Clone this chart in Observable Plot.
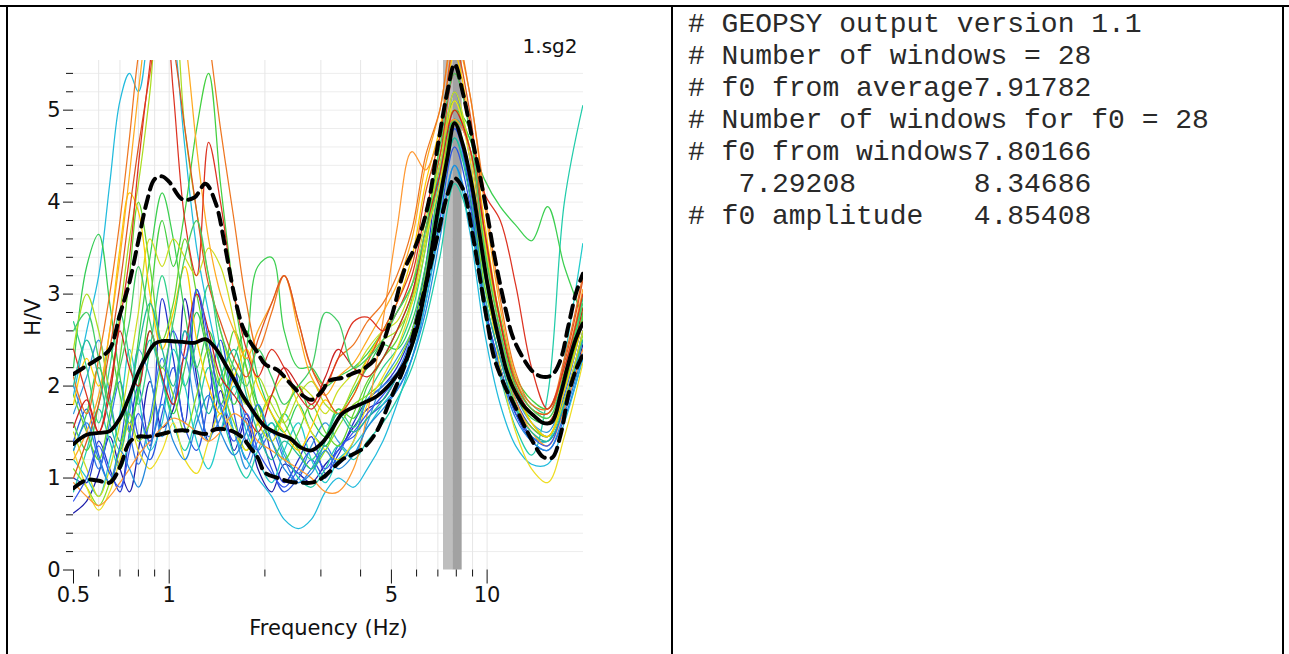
<!DOCTYPE html>
<html><head><meta charset="utf-8">
<script src="https://cdn.jsdelivr.net/npm/d3@7"></script>
<script src="https://cdn.jsdelivr.net/npm/@observablehq/plot@0.6"></script>
<style>
html,body{margin:0;padding:0;background:#fff;}
#page{position:relative;width:1289px;height:654px;overflow:hidden;background:#fff;}
#chart{position:absolute;left:0;top:0;}
.bd{position:absolute;background:#000;}
#report{position:absolute;left:688px;top:9px;margin:0;font-family:"Liberation Mono","Courier New",monospace;font-size:28px;line-height:32px;white-space:pre;color:#2a2a2a;}
</style></head>
<body><div id="page"><div id="chart"></div>
<div class="bd" style="left:0;top:5px;width:1289px;height:2px"></div>
<div class="bd" style="left:6px;top:5px;width:2px;height:649px"></div>
<div class="bd" style="left:671px;top:5px;width:2px;height:649px"></div>
<div class="bd" style="left:1282px;top:5px;width:2px;height:649px"></div>
<pre id="report"></pre>
</div>
<script>
// ---------- text ----------
const chartTitle = "1.sg2";
const xLabel = "Frequency (Hz)";
const yLabel = "H/V";
const reportLines = [
  "# GEOPSY output version 1.1",
  "# Number of windows = 28",
  "# f0 from average7.91782",
  "# Number of windows for f0 = 28",
  "# f0 from windows7.80166",
  "   7.29208       8.34686",
  "# f0 amplitude   4.85408"
];

// ---------- ticks ----------
const xMajorTicks = [0.5, 1, 5, 10];
const xMinorTicks = [0.6, 0.7, 0.8, 0.9, 2, 3, 4, 6, 7, 8, 9];
const xGridTicks = [0.6, 0.7, 0.8, 0.9, 1, 2, 3, 4, 5, 6, 7, 8, 9, 10];
const yMajorTicks = [0, 1, 2, 3, 4, 5];
const yMinorTicks = [0.2,0.4,0.6,0.8,1.2,1.4,1.6,1.8,2.2,2.4,2.6,2.8,3.2,3.4,3.6,3.8,4.2,4.4,4.6,4.8,5.2,5.4];
const yGridTicks = [0.2,0.4,0.6,0.8,1,1.2,1.4,1.6,1.8,2,2.2,2.4,2.6,2.8,3,3.2,3.4,3.6,3.8,4,4.2,4.4,4.6,4.8,5,5.2,5.4];

// ---------- f0 band (low, f0, high) ----------
const f0Bounds = [7.29208, 7.80166, 8.34686];

// ---------- statistics curves ----------
const statFreq = [0.5,0.55,0.6,0.65,0.7, 0.75,0.8,0.85,0.9,0.95, 1.0,1.1,1.2,1.3,1.4, 1.5,1.6,1.7,1.8,1.9, 2.0,2.2,2.4,2.6,2.8, 3.0,3.2,3.5,3.8,4.1, 4.5,5.0,5.5,6.0,6.5, 7.0,7.5,7.9,8.4,9.0, 9.5,10,10.5,11,11.5, 12,13,14,15,16, 17,18,19,20];
const meanHV = [1.37,1.47,1.49,1.51,1.65, 1.89,2.15,2.33,2.46,2.49, 2.49,2.48,2.47,2.51,2.41, 2.24,2.07,1.90,1.77,1.65, 1.56,1.48,1.43,1.33,1.30, 1.37,1.49,1.70,1.77,1.82, 1.89,2.04,2.25,2.61,3.21, 3.91,4.48,4.86,4.62,4.14, 3.62,3.13,2.75,2.44,2.17, 2.00,1.79,1.68,1.60,1.61, 1.90,2.24,2.51,2.68];
const upperHV = [2.13,2.22,2.30,2.40,2.78, 3.13,3.58,4.00,4.25,4.28, 4.22,4.03,4.05,4.20,3.99, 3.51,3.00,2.65,2.48,2.36, 2.24,2.17,2.03,1.91,1.85, 1.93,2.06,2.09,2.14,2.19, 2.32,2.75,3.27,3.55,3.95, 4.62,5.20,5.50,5.18,4.67, 4.28,3.88,3.45,3.10,2.80, 2.55,2.30,2.15,2.10,2.12, 2.28,2.65,3.00,3.22];
const lowerHV = [0.89,0.98,0.97,0.95,1.12, 1.39,1.45,1.45,1.46,1.48, 1.50,1.52,1.50,1.48,1.53, 1.53,1.50,1.44,1.33,1.22, 1.06,1.00,0.96,0.95,0.95, 0.99,1.07,1.20,1.26,1.33, 1.51,1.88,2.22,2.70,3.18, 3.65,4.08,4.26,4.14,3.65, 3.17,2.71,2.32,2.12,1.96, 1.84,1.59,1.38,1.23,1.22, 1.46,1.90,2.17,2.34];

// ---------- individual windows ----------
const winFreq = [0.5,0.55,0.6,0.65,0.7, 0.75,0.8,0.87,0.95,1.03, 1.12,1.22,1.33,1.45,1.6, 1.75,1.9,2.1,2.3,2.55, 2.8,3.1,3.4,3.8,4.2, 4.7,5.2,5.8,6.4,7.1, 7.9,8.8,9.8,11,12.3, 13.8,15.5,17.5,20];
const w1 = [0.62,0.75,1.05,1.45,1.10, 0.85,1.30,2.05,1.55,1.75, 2.95,2.10,1.40,1.95,1.30, 1.65,1.10,0.85,1.15,1.05, 0.95,1.15,1.30,1.55,1.75,1.85,2.10,2.45,3.10,4.10,4.90,4.10,2.90,2.20,1.70,1.45,1.40,1.75,2.45];
const w2 = [1.00,0.95,1.40,1.10,0.85, 1.50,2.00,1.35,2.95,2.30, 1.60,3.05,2.30,1.50,2.20, 1.40,1.80,1.25,0.95,1.20, 1.45,1.05,1.25,1.60,1.85,2.00,2.20,2.60,3.30,4.40,4.90,4.60,3.30,2.50,1.85,1.55,1.45,1.85,2.60];
const w3 = [1.40,1.75,1.25,0.95,1.35, 1.90,1.45,1.20,1.70,2.20, 1.55,1.30,1.85,2.50,1.70, 1.20,1.50,1.10,0.85,1.00, 1.20,1.00,1.35,1.45,1.65,1.80,1.95,2.30,2.90,3.80,4.60,4.00,2.90,2.20,1.70,1.40,1.30,1.65,2.30];
const w4 = [2.00,1.55,1.10,1.60,2.05, 1.50,1.15,1.65,2.30,1.80, 2.60,2.00,1.45,1.65,2.10, 1.60,1.30,1.50,1.20,0.95, 1.10,1.35,1.15,1.40,1.85,2.00,2.15,2.55,3.20,4.30,5.20,4.50,3.30,2.55,1.95,1.60,1.45,1.90,2.75];
const w5 = [1.70,2.10,2.50,1.90,1.40, 1.70,2.40,2.10,1.45,1.90, 2.30,1.70,1.40,1.80,1.50, 1.10,1.40,1.60,1.25,1.05, 1.35,1.60,1.40,1.25,1.60,2.05,2.30,2.60,3.20,4.00,4.80,4.30,3.25,2.50,1.90,1.60,1.50,1.95,2.70];
const w6 = [1.90,2.60,3.20,4.20,5.10, 5.40,5.20,6.00,6.60,5.90, 4.60,3.50,2.80,2.20,1.50, 1.20,1.00,0.80,0.55,0.45, 0.55,0.85,1.00,0.90,1.10,1.40,1.80,2.30,2.90,3.70,4.40,3.70,2.60,1.80,1.35,1.15,1.15,1.60,2.30];
const w7 = [1.20,1.00,0.80,1.20,1.70, 2.40,1.90,1.30,1.60,2.40, 2.00,1.40,1.10,1.50,2.00, 1.50,1.20,0.95,1.30,1.60, 1.20,0.95,1.20,1.35,1.55,1.80,2.00,2.40,3.00,3.90,4.70,4.20,3.10,2.40,1.80,1.45,1.40,2.30,3.55];
const w8 = [0.85,1.30,1.75,1.40,1.10, 1.45,1.95,2.50,2.05,1.60, 1.30,1.70,2.20,1.75,1.25, 1.00,1.30,1.60,1.30,1.00, 0.90,1.10,1.35,1.20,1.40,1.60,1.85,2.20,2.70,3.40,4.20,3.80,2.80,2.10,1.55,1.25,1.90,4.00,5.05];
const w9 = [2.70,2.20,1.60,2.20,2.80, 2.30,1.80,2.40,3.20,2.60, 2.00,2.50,3.10,2.40,1.90, 2.30,1.80,1.50,1.70,1.40, 1.20,1.45,1.75,1.55,1.90,2.20,2.40,2.80,3.50,4.40,4.90,4.70,3.50,2.70,2.05,1.80,1.70,2.10,2.95];
const w10 = [2.20,3.30,3.65,2.90,2.10, 1.60,1.90,2.60,2.10,1.70, 2.20,2.80,2.30,1.80,2.30, 2.60,2.10,1.70,1.50,1.80, 1.50,1.35,1.65,1.95,2.20,2.45,2.40,2.70,3.30,4.20,4.90,4.30,3.20,2.45,1.90,1.65,1.60,2.00,2.80];
const w11 = [1.60,1.30,1.80,2.40,1.90, 1.50,2.00,2.90,3.80,3.30, 3.90,4.80,5.40,4.20,3.00, 2.20,1.80,1.50,1.70,2.00, 1.65,1.45,1.75,1.65,2.00,2.30,2.60,3.00,3.60,4.50,5.00,4.80,3.60,2.75,2.10,1.85,1.75,2.15,3.00];
const w12 = [1.30,1.70,2.20,1.80,1.40, 1.80,2.50,3.40,4.10,3.60, 2.80,2.20,2.60,2.20,1.80, 2.40,3.30,3.40,2.60,2.20, 2.20,2.00,2.10,2.20,2.35,2.60,2.80,3.10,3.60,4.30,5.00,4.70,4.25,3.95,3.75,3.58,3.95,3.30,2.75];
const w13 = [1.90,1.50,1.20,1.70,2.30, 3.20,4.00,3.30,2.50,2.90, 3.60,3.00,2.40,2.00,2.60, 2.20,1.70,1.40,1.20,1.50, 1.80,1.50,1.35,1.70,2.05,2.30,2.50,2.95,3.60,4.60,5.10,4.60,3.50,2.60,1.95,1.70,1.60,2.00,2.75];
const w14 = [1.10,0.90,0.70,0.95,1.30, 1.70,1.40,1.60,2.20,1.90, 1.50,1.90,2.40,2.00,1.60, 1.30,1.60,1.90,1.60,1.30, 1.10,1.30,1.55,1.80,1.90,2.05,2.25,2.60,3.20,4.10,4.90,4.25,3.10,2.40,1.80,1.55,1.45,1.85,2.55];
const w15 = [2.40,3.00,2.60,2.00,2.80, 3.60,4.20,5.20,6.50,6.20, 4.80,3.90,3.20,2.60,2.10, 1.80,2.10,1.80,1.60,1.90, 2.05,1.80,1.70,2.00,2.30,2.50,2.60,2.90,3.50,4.50,5.00,4.60,3.60,2.70,2.05,1.75,1.65,2.05,2.85];
const w16 = [1.50,1.10,0.80,1.10,1.60, 2.20,2.80,3.60,3.30,3.60, 3.40,3.20,3.50,3.30,2.70, 2.00,1.60,1.40,1.70,2.00, 1.90,1.70,1.95,2.15,2.40,2.60,2.70,3.10,3.80,4.40,5.20,4.60,3.60,2.60,1.95,1.60,1.45,1.85,2.60];
const w17 = [1.30,0.90,0.65,0.85,1.20, 1.60,1.30,1.10,1.30,1.60, 1.20,1.05,1.40,1.70,1.50, 1.30,1.60,1.90,2.10,1.80, 1.50,1.30,1.20,1.40,1.80,2.10,2.40,2.90,3.60,4.20,5.10,4.50,3.30,2.20,1.50,1.10,0.95,1.45,2.25];
const w18 = [1.80,2.30,2.00,2.60,3.50, 4.10,3.90,3.00,2.40,2.80, 3.30,2.50,2.00,1.70,2.10, 2.40,2.00,1.70,1.50,1.30, 1.55,1.85,1.70,1.90,2.30,2.60,2.90,3.40,4.20,4.80,5.60,4.90,3.80,2.70,2.00,1.60,1.45,1.95,2.70];
const w19 = [1.20,1.50,1.90,2.60,3.40, 4.30,5.20,6.20,6.80,6.50, 5.80,4.60,3.60,3.00,2.60, 2.30,2.60,2.90,3.20,2.60, 2.10,1.90,2.10,2.25,2.50,2.80,3.10,3.60,4.40,5.00,5.80,5.20,4.00,2.85,2.10,1.75,1.70,2.20,3.05];
const w20 = [0.95,0.80,0.70,0.80,0.95, 1.10,1.25,1.40,1.55,1.65, 1.60,1.50,1.40,1.50,1.70, 1.60,1.40,1.30,1.20,1.10, 1.00,0.85,0.85,1.10,1.70,2.70,3.70,4.55,4.35,4.70,4.90,4.60,3.40,2.50,1.85,1.50,1.35,1.75,2.40];
const w21 = [2.10,1.70,2.30,3.00,3.80, 4.70,5.60,6.30,5.80,6.40, 7.00,6.60,5.80,4.80,3.80, 2.90,2.40,2.80,3.20,2.70, 2.20,2.00,2.30,2.45,2.70,2.90,3.20,3.70,4.50,5.00,5.90,5.20,4.10,2.95,2.15,1.80,1.75,2.30,3.20];
const w22 = [1.00,1.40,1.80,2.40,3.10, 3.90,4.60,5.40,6.20,5.70, 4.80,3.90,3.10,2.70,2.30, 2.10,2.50,2.90,3.20,2.70, 2.20,1.90,1.70,1.90,2.25,2.60,2.90,3.30,4.10,4.70,5.70,5.00,3.70,2.70,2.05,1.75,1.70,2.25,3.15];
const w23 = [2.40,1.90,1.50,2.00,2.70, 3.40,4.40,5.50,6.50,5.20, 3.80,3.20,4.65,4.00,3.00, 2.40,2.10,2.40,2.20,1.90, 1.75,2.00,2.30,2.70,2.75,2.60,2.80,3.20,3.90,4.50,5.40,4.90,4.10,3.80,3.10,2.20,1.75,2.20,3.00];
const w24 = [1.55,1.85,1.50,1.90,2.60, 2.20,2.00,2.60,2.10,1.80, 2.40,3.00,2.60,2.10,1.90, 1.70,1.50,1.90,2.20,2.00, 1.80,2.10,2.40,2.20,2.10,2.30,2.60,3.00,3.70,4.30,5.00,4.60,3.70,2.70,2.00,1.70,1.60,2.05,2.85];
const w25 = [0.75,1.00,1.35,1.05,0.90, 1.30,1.70,1.40,1.90,2.60, 2.30,3.05,2.50,1.80,1.40, 1.70,1.30,1.05,0.90,1.10, 1.30,1.10,1.30,1.50,1.70,1.90,2.10,2.50,3.10,4.00,4.80,4.20,3.00,2.30,1.75,1.45,1.35,1.80,2.50];
const w26 = [1.30,1.60,1.20,0.95,1.30, 1.10,0.90,1.30,1.80,1.40, 1.20,1.60,1.90,1.50,1.25, 1.50,1.80,1.40,1.10,0.95, 1.05,1.30,1.10,1.25,1.55,1.75,1.95,2.30,2.80,3.60,4.40,3.90,2.85,2.15,1.65,1.40,1.30,1.70,2.35];
const w27 = [2.00,2.50,2.10,1.60,1.30, 1.80,2.40,2.90,2.40,2.00, 2.60,2.20,1.70,2.10,2.40, 1.90,1.50,1.20,1.40,1.25, 1.10,1.40,1.70,1.50,1.65,1.85,2.10,2.45,3.00,3.90,4.70,4.10,3.00,2.30,1.75,1.50,1.40,1.80,2.50];
const w28 = [2.60,2.80,2.30,1.80,2.20, 2.70,3.30,2.70,2.20,2.70, 3.40,3.80,3.20,2.60,2.20, 2.00,2.40,2.10,1.80,2.00, 2.20,2.80,2.70,2.20,2.30,2.50,2.80,3.10,3.70,4.60,5.40,4.80,3.50,2.60,2.00,1.75,1.65,2.10,2.90];
const windowSeries = [w1,w2,w3,w4,w5,w6,w7,w8,w9,w10,w11,w12,w13,w14,w15,w16,w17,w18,w19,w20,w21,w22,w23,w24,w25,w26,w27,w28];
const windowColors = ["#1c1caa","#2233cc","#2a55e0","#2f78e8","#3399dd","#22bbdd","#22cccc","#22ccaa","#2fd08a","#33cc55","#44d040","#3ccf50","#66d530","#88dd22","#aadd22","#ccdd22","#eedd22","#ffcc00","#ffaa22","#ff9933","#ee7722","#dd5522","#dd3322","#cc2222","#3355ee","#2288dd","#22bb99","#44cc66"];

// ---------- tables ----------
const windowTable = windowSeries.flatMap((vals, i) => vals.map((v, j) => ({win: i, f: winFreq[j], v, c: windowColors[i]})));
const statTable = statFreq.map((f, j) => ({f, mean: meanHV[j], up: upperHV[j], lo: lowerHV[j]}));
const bandTable = [
  {lo: f0Bounds[0], hi: f0Bounds[1], shade: "#bebebe"},
  {lo: f0Bounds[1], hi: f0Bounds[2], shade: "#a2a2a2"}
];

document.getElementById("report").textContent = reportLines.join("\n");

const chart = Plot.plot({
  width: 672, height: 654,
  marginLeft: 73, marginRight: 89, marginTop: 60, marginBottom: 84.5,
  style: {fontFamily: "DejaVu Sans", fontSize: "20px", color: "#111", background: "white", overflow: "visible"},
  x: {type: "log", domain: [0.5, 20.1], label: null},
  y: {domain: [0, 5.54], label: null},
  color: {type: "identity"},
  marks: [
    Plot.gridY(yGridTicks, {stroke: "#ededed", strokeOpacity: 1}),
    Plot.gridX(xGridTicks, {stroke: "#e6e6e6", strokeOpacity: 1}),
    Plot.rect(bandTable, {x1: "lo", x2: "hi", fill: "shade"}),
    Plot.line(windowTable, {x: "f", y: "v", z: "win", stroke: "c", strokeWidth: 1.25, curve: "catmull-rom", clip: true}),
    Plot.line(statTable, {x: "f", y: "up", stroke: "#000", strokeWidth: 4, strokeDasharray: "12,7", curve: "catmull-rom", clip: true}),
    Plot.line(statTable, {x: "f", y: "lo", stroke: "#000", strokeWidth: 4, strokeDasharray: "12,7", curve: "catmull-rom", clip: true}),
    Plot.line(statTable, {x: "f", y: "mean", stroke: "#000", strokeWidth: 3.8, curve: "catmull-rom", clip: true}),
    Plot.axisY(yMinorTicks, {tickSize: 7, tickFormat: () => "", label: null}),
    Plot.axisY(yMajorTicks, {tickSize: 10, tickFormat: () => "", label: null}),
    Plot.axisX(xMinorTicks, {tickSize: 7, tickFormat: () => "", label: null}),
    Plot.axisX(xMajorTicks, {tickSize: 14, tickFormat: () => "", label: null}),
    Plot.text(yMajorTicks, {y: d => d, text: d => String(d), frameAnchor: "left", textAnchor: "end", lineAnchor: "middle", dx: -13, fontSize: 21}),
    Plot.text(xMajorTicks, {x: d => d, text: d => String(d), frameAnchor: "bottom", textAnchor: "middle", lineAnchor: "top", dy: 17, fontSize: 21}),
    Plot.text([chartTitle], {text: d => d, frameAnchor: "top-right", textAnchor: "end", lineAnchor: "middle", dx: -6, dy: -14, fontSize: 20}),
    Plot.text([xLabel], {text: d => d, frameAnchor: "bottom", textAnchor: "middle", lineAnchor: "bottom", dy: 65, fontSize: 21}),
    Plot.text([yLabel], {text: d => d, frameAnchor: "left", textAnchor: "middle", lineAnchor: "middle", dx: -40, dy: 2, rotate: -90, fontSize: 21})
  ]
});
document.getElementById("chart").appendChild(chart);
</script>
</body></html>
